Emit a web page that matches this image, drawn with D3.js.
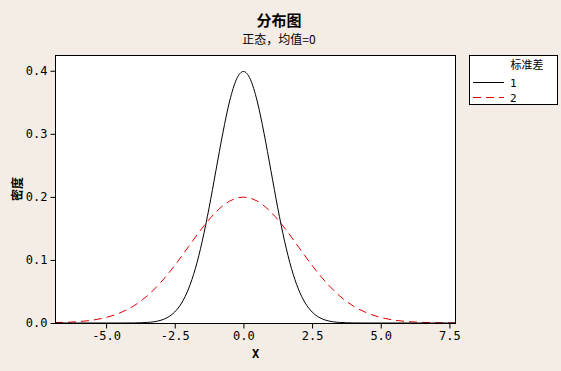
<!DOCTYPE html>
<html>
<head>
<meta charset="utf-8">
<script src="https://cdn.jsdelivr.net/npm/d3@7"></script>
<style>
  body { margin: 0; background: #f3ede6; }
  svg { display: block; }
  .tick text { font-family: "DejaVu Sans Mono", monospace; font-size: 12px; fill: #000; }
  .cjk { font-family: "Noto Sans CJK SC", sans-serif; fill: #000; }
</style>
</head>
<body>
<div id="chart"></div>
<script>
// values
var title = "分布图"
var subtitle = "正态，均值=0"
var legendTitle = "标准差"
var seriesNames = ["1", "2"]

var xTicks = [-5.0, -2.5, 0.0, 2.5, 5.0, 7.5]
var yTicks = [0.0, 0.1, 0.2, 0.3, 0.4]

var xSd1 = [-6.86, -4.5, -4, -3.75, -3.5, -3.25, -3, -2.75, -2.5, -2.25, -2, -1.75, -1.5, -1.25, -1, -0.75, -0.5, -0.25,
  0, 0.25, 0.5, 0.75, 1, 1.25, 1.5, 1.75, 2, 2.25, 2.5, 2.75, 3, 3.25, 3.5, 3.75, 4, 4.5, 7.74]
var densSd1 = [0, 0, 0.0001, 0.0004, 0.0009, 0.0020, 0.0044, 0.0091, 0.0175, 0.0317, 0.0540, 0.0863, 0.1295, 0.1826, 0.2420, 0.3011, 0.3521, 0.3867,
  0.3989, 0.3867, 0.3521, 0.3011, 0.2420, 0.1826, 0.1295, 0.0863, 0.0540, 0.0317, 0.0175, 0.0091, 0.0044, 0.0020, 0.0009, 0.0004, 0.0001, 0, 0]

var xSd2 = [-6.86, -6.5, -6, -5.5, -5, -4.5, -4, -3.5, -3, -2.5, -2, -1.5, -1, -0.5,
  0, 0.5, 1, 1.5, 2, 2.5, 3, 3.5, 4, 4.5, 5, 5.5, 6, 6.5, 7, 7.5, 7.74]
var densSd2 = [0.0008, 0.0010, 0.0022, 0.0045, 0.0088, 0.0159, 0.0270, 0.0431, 0.0648, 0.0913, 0.1210, 0.1506, 0.1760, 0.1933,
  0.1995, 0.1933, 0.1760, 0.1506, 0.1210, 0.0913, 0.0648, 0.0431, 0.0270, 0.0159, 0.0088, 0.0045, 0.0022, 0.0010, 0.0004, 0.0002, 0.0001]

var fullWidth = 561
var fullHeight = 371
var plot = {left: 55, top: 55, right: 456, bottom: 323}

var x = d3.scaleLinear().domain([-6.86, 7.74]).range([plot.left, plot.right])
var y = d3.scaleLinear().domain([0, 0.425]).range([plot.bottom, plot.top])

var svg = d3.select("#chart").append("svg")
  .attr("width", fullWidth)
  .attr("height", fullHeight)

svg.append("rect")
  .attr("width", fullWidth).attr("height", fullHeight)
  .attr("fill", "#f3ede6")

svg.append("rect")
  .attr("x", plot.left).attr("y", plot.top)
  .attr("width", plot.right - plot.left).attr("height", plot.bottom - plot.top)
  .attr("fill", "#fff")

svg.append("clipPath").attr("id", "clip")
  .append("rect")
  .attr("x", plot.left).attr("y", plot.top)
  .attr("width", plot.right - plot.left).attr("height", plot.bottom - plot.top)

var line = d3.line()
  .x(function(d) { return x(d[0]) })
  .y(function(d) { return y(d[1]) })
  .curve(d3.curveMonotoneX)

svg.append("path")
  .datum(d3.zip(xSd2, densSd2))
  .attr("clip-path", "url(#clip)")
  .attr("d", line)
  .attr("fill", "none")
  .attr("stroke", "#e00000")
  .attr("stroke-width", 1)
  .attr("stroke-dasharray", "8,5")

svg.append("path")
  .datum(d3.zip(xSd1, densSd1))
  .attr("clip-path", "url(#clip)")
  .attr("d", line)
  .attr("fill", "none")
  .attr("stroke", "#000")
  .attr("stroke-width", 1)

// frame
svg.append("rect")
  .attr("x", plot.left + 0.5).attr("y", plot.top + 0.5)
  .attr("width", plot.right - plot.left - 1).attr("height", plot.bottom - plot.top)
  .attr("fill", "none")
  .attr("stroke", "#000")

var xAxis = svg.append("g")
  .attr("transform", "translate(0," + (plot.bottom + 0.5) + ")")
  .call(d3.axisBottom(x).tickValues(xTicks).tickFormat(d3.format(".1f")).tickSize(5).tickPadding(3).tickSizeOuter(0))
xAxis.select(".domain").remove()

var yAxis = svg.append("g")
  .attr("transform", "translate(" + (plot.left + 0.5) + ",0)")
  .call(d3.axisLeft(y).tickValues(yTicks).tickFormat(d3.format(".1f")).tickSize(5).tickPadding(3).tickSizeOuter(0))
yAxis.select(".domain").remove()

svg.selectAll(".tick text").text(function() { return this.textContent.replace("−", "-") })

svg.append("text").attr("class", "cjk")
  .attr("x", 279).attr("y", 26)
  .attr("text-anchor", "middle")
  .attr("font-size", 15).attr("font-weight", "bold")
  .text(title)

svg.append("text").attr("class", "cjk")
  .attr("x", 279).attr("y", 44)
  .attr("text-anchor", "middle")
  .attr("font-size", 12)
  .text(subtitle)

svg.append("text").attr("class", "cjk")
  .attr("transform", "translate(22," + ((plot.top + plot.bottom) / 2) + ") rotate(-90)")
  .attr("text-anchor", "middle")
  .attr("font-size", 12).attr("font-weight", "bold")
  .text("密度")

svg.append("text")
  .attr("x", (plot.left + plot.right) / 2).attr("y", 358)
  .attr("text-anchor", "middle")
  .attr("font-family", "DejaVu Sans Mono, monospace")
  .attr("font-size", 12).attr("font-weight", "bold")
  .text("X")

// legend
var legend = svg.append("g")
legend.append("rect")
  .attr("x", 469.5).attr("y", 55.5)
  .attr("width", 88).attr("height", 49)
  .attr("fill", "#fff").attr("stroke", "#000")

legend.append("text").attr("class", "cjk")
  .attr("x", 527).attr("y", 69)
  .attr("text-anchor", "middle")
  .attr("font-size", 11)
  .text(legendTitle)

var legendStyles = [{stroke: "#000", dash: null}, {stroke: "#e00000", dash: "8,5"}]
seriesNames.forEach(function(name, i) {
  var ly = 82.5 + i * 15
  legend.append("line")
    .attr("x1", 473).attr("x2", 504)
    .attr("y1", ly).attr("y2", ly)
    .attr("stroke", legendStyles[i].stroke)
    .attr("stroke-dasharray", legendStyles[i].dash)
  legend.append("text")
    .attr("x", 510).attr("y", ly + 4)
    .attr("font-family", "DejaVu Sans Mono, monospace")
    .attr("font-size", 11)
    .text(name)
})
</script>
</body>
</html>
